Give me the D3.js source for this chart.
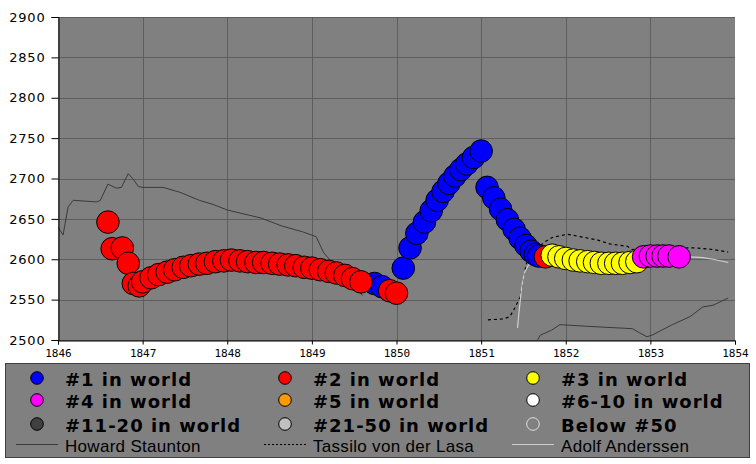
<!DOCTYPE html>
<html><head><meta charset="utf-8">
<script src="https://cdn.jsdelivr.net/npm/d3@7"></script>
<style>body{margin:0;background:#fff}svg{display:block}</style>
</head><body>
<svg id="chart" width="756" height="464"></svg>
<script>
// ---- data ----
const xTicks = [1846,1847,1848,1849,1850,1851,1852,1853,1854];
const yTicks = [2500,2550,2600,2650,2700,2750,2800,2850,2900];

const blueDates = [1849.74,1849.83,1850.08,1850.16,1850.24,1850.33,1850.41,1850.48,1850.55,1850.62,1850.69,1850.76,1850.83,1850.91,1851.00,1851.07,1851.15,1851.23,1851.31,1851.39,1851.46,1851.53,1851.59,1851.64,1851.68];
const blueValues = [2570,2566,2589,2614,2632,2646,2660,2673,2684,2694,2703,2711,2718,2726,2734,2689,2676,2662,2649,2637,2626,2617,2610,2606,2604];

const redDates = [1846.59,1846.64,1846.76,1846.83,1846.89,1846.96,1847.00,1847.10,1847.19,1847.29,1847.38,1847.48,1847.57,1847.67,1847.76,1847.86,1847.96,1848.05,1848.15,1848.24,1848.34,1848.43,1848.53,1848.62,1848.72,1848.81,1848.91,1849.00,1849.10,1849.20,1849.29,1849.39,1849.48,1849.58,1849.92,1850.00,1851.76];
const redValues = [2646,2613,2614,2595,2570,2567,2572,2577,2581,2584,2587,2590,2592,2594,2595,2597,2598,2599,2598,2597,2596,2596,2595,2594,2593,2592,2590,2589,2587,2585,2583,2580,2576,2572,2561,2558,2603];

const yellowDates = [1851.84,1851.92,1852.00,1852.09,1852.17,1852.26,1852.34,1852.42,1852.51,1852.59,1852.67,1852.76,1852.84];
const yellowValues = [2605,2603,2601,2599,2598,2597,2596,2595,2595,2595,2595,2596,2597];

const magentaDates = [1852.92,1853.00,1853.08,1853.15,1853.22,1853.34];
const magentaValues = [2603,2604,2604,2604,2604,2603];

const stauntonDates1 = [1846.00,1846.06,1846.12,1846.18,1846.46,1846.50,1846.59,1846.69,1846.75,1846.83,1846.89,1846.95,1847.00,1847.24,1847.44,1847.67,1847.83,1848.00,1848.16,1848.40,1848.65,1848.89,1849.05,1849.14,1849.24,1849.33,1849.46,1849.60];
const stauntonValues1 = [2640,2630,2665,2673,2671,2673,2693,2688,2689,2706,2699,2690,2689,2689,2683,2673,2668,2661,2657,2651,2641,2634,2628,2608,2596,2585,2570,2555];
const stauntonDates2 = [1851.62,1851.70,1851.83,1851.93,1852.25,1852.79,1852.87,1852.96,1853.02,1853.26,1853.47,1853.62,1853.74,1853.92];
const stauntonValues2 = [2492,2506,2512,2519,2517,2514,2509,2504,2506,2519,2529,2541,2543,2552];

const lasaDates = [1851.08,1851.26,1851.34,1851.40,1851.46,1851.50,1851.54,1851.64,1851.76,1851.84,1852.02,1852.17,1852.37,1852.52,1852.73,1852.78,1853.00,1853.30,1853.55,1853.74,1853.92];
const lasaValues = [2525,2526,2529,2540,2553,2578,2596,2612,2622,2627,2631,2628,2624,2619,2616,2612,2613,2614,2614,2612,2609];

const anderssenDates = [1851.43,1851.45,1851.48,1851.51,1851.56,1851.70,1852.00,1852.50,1853.00,1853.35,1853.47,1853.62,1853.74,1853.92];
const anderssenValues = [2515,2537,2566,2583,2593,2598,2600,2602,2603,2603,2603,2602,2600,2596];

const legendLabels = ["#1 in world","#2 in world","#3 in world","#4 in world","#5 in world","#6-10 in world","#11-20 in world","#21-50 in world","Below #50"];
const legendColors = ["#0000ff","#ff0000","#ffff00","#ff00ff","#ff9900","#ffffff","#404040","#c0c0c0","#808080"];
const legendStrokes = ["#000","#000","#000","#000","#000","#000","#000","#000","#e0e0e0"];
const lineLabels = ["Howard Staunton","Tassilo von der Lasa","Adolf Anderssen"];

// ---- drawing ----
const svg = d3.select("#chart");
const L = 58, R = 735, T = 17, B = 340;
const x = d3.scaleLinear().domain([1846,1854]).range([L,R]);
const y = d3.scaleLinear().domain([2500,2900]).range([B,T]);

svg.append("defs").append("clipPath").attr("id","clip")
  .append("rect").attr("x",L).attr("y",T).attr("width",R-L).attr("height",B-T);

svg.append("rect").attr("x",L).attr("y",T).attr("width",R-L).attr("height",B-T).attr("fill","#808080");

// grid
const g = svg.append("g");
g.selectAll("line.h").data(yTicks).enter().append("line")
  .attr("x1",L).attr("x2",R).attr("y1",d=>Math.round(y(d))+0.5).attr("y2",d=>Math.round(y(d))+0.5)
  .attr("stroke","#5e5e5e").attr("stroke-width",1);
g.selectAll("line.v").data(xTicks.slice(1,-1)).enter().append("line")
  .attr("y1",T).attr("y2",B).attr("x1",d=>Math.round(x(d))+0.5).attr("x2",d=>Math.round(x(d))+0.5)
  .attr("stroke","#5e5e5e").attr("stroke-width",1);

// lines
const plot = svg.append("g").attr("clip-path","url(#clip)");
const line = d3.line().x(d=>x(d[0])).y(d=>y(d[1]));
const zip = (a,b)=>a.map((v,i)=>[v,b[i]]);
plot.append("path").attr("d",line(zip(stauntonDates1,stauntonValues1))).attr("fill","none").attr("stroke","#3a3a3a").attr("stroke-width",1);
plot.append("path").attr("d",line(zip(stauntonDates2,stauntonValues2))).attr("fill","none").attr("stroke","#3a3a3a").attr("stroke-width",1);
plot.append("path").attr("d",line(zip(lasaDates,lasaValues))).attr("fill","none").attr("stroke","#000").attr("stroke-width",1.2).attr("stroke-dasharray","3,3");
plot.append("path").attr("d",line(zip(anderssenDates,anderssenValues))).attr("fill","none").attr("stroke","#cfcfcf").attr("stroke-width",1.2);

// dots
const series = [
  [blueDates,blueValues,legendColors[0]],
  [redDates,redValues,legendColors[1]],
  [yellowDates,yellowValues,legendColors[2]],
  [magentaDates,magentaValues,legendColors[3]]
];
series.forEach(([ds,vs,c])=>{
  plot.append("g").selectAll("circle").data(zip(ds,vs)).enter().append("circle")
    .attr("cx",d=>x(d[0])).attr("cy",d=>y(d[1])).attr("r",11.3)
    .attr("fill",c).attr("stroke","#000").attr("stroke-width",1);
});

// axes
const yAxis = d3.axisLeft(y).tickValues(yTicks).tickSize(7).tickPadding(6).tickFormat(d3.format("d"));
const ya = svg.append("g").attr("transform",`translate(${L+0.5},0)`).call(yAxis);
ya.select(".domain").attr("stroke","#000");
ya.selectAll("text").attr("font-family","DejaVu Sans").attr("font-size","13px").attr("letter-spacing","0.8px").attr("fill","#000");

const xAxis = d3.axisBottom(x).tickValues(xTicks).tickSize(4).tickPadding(5).tickFormat(d3.format("d"));
const xa = svg.append("g").attr("transform",`translate(0,${B+0.5})`).call(xAxis);
xa.select(".domain").attr("stroke","#000");
xa.selectAll("text").attr("font-family","DejaVu Sans Mono").attr("font-size","11px").attr("fill","#000");

// legend
const lg = svg.append("g");
lg.append("rect").attr("x",5.5).attr("y",363.5).attr("width",744).attr("height",94).attr("fill","#808080").attr("stroke","#404040");
const colX = [37,285,533];
const rowY = [378,400,424];
legendLabels.forEach((lab,i)=>{
  const cx = colX[i%3], cy = rowY[Math.floor(i/3)];
  lg.append("circle").attr("cx",cx).attr("cy",cy).attr("r",6.3).attr("fill",legendColors[i]).attr("stroke",legendStrokes[i]);
  lg.append("text").attr("x",cx+28).attr("y",cy+8).text(lab)
    .attr("font-family","DejaVu Sans").attr("font-weight","bold").attr("font-size","18px").attr("letter-spacing","1px").attr("fill","#000");
});
const lineStyles = [["#3a3a3a",null],["#000","2,2"],["#cfcfcf",null]];
lineLabels.forEach((lab,i)=>{
  const x0 = colX[i]-21;
  const ln = lg.append("line").attr("x1",x0).attr("x2",x0+42).attr("y1",444.5).attr("y2",444.5).attr("stroke",lineStyles[i][0]).attr("stroke-width",1);
  if(lineStyles[i][1]) ln.attr("stroke-dasharray",lineStyles[i][1]);
  lg.append("text").attr("x",colX[i]+28).attr("y",452).text(lab)
    .attr("font-family","Liberation Sans").attr("font-size","17px").attr("letter-spacing","0.3px").attr("fill","#000");
});
</script>
</body></html>
